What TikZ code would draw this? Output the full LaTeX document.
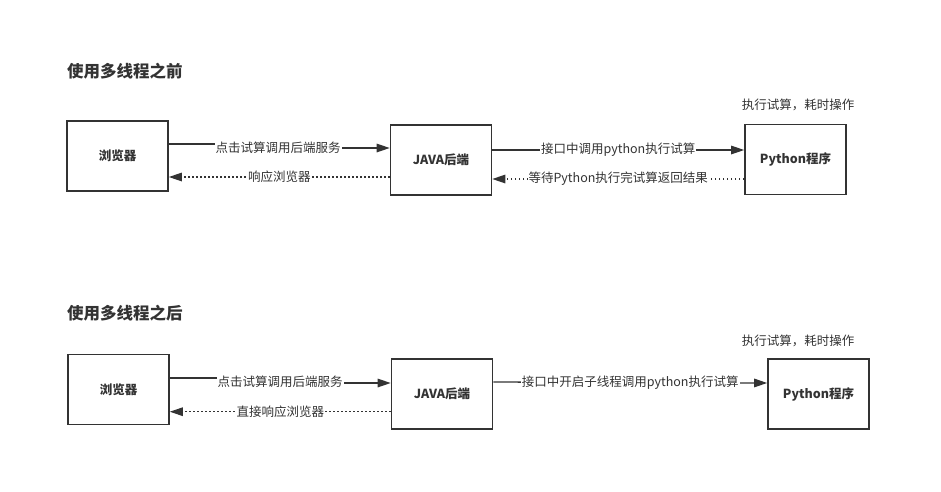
\documentclass[tikz,border=0pt]{standalone}
\usepackage{fontspec}
\setmainfont{Noto Sans CJK SC}
\usepackage{tikz}
\usetikzlibrary{arrows.meta}
\definecolor{ink}{HTML}{333333}
\tikzstyle{box}=[draw=ink,line width=1.6pt,minimum width=101pt,minimum height=70pt,inner sep=0pt,font=\fontsize{12.5}{14}\selectfont\bfseries,text=ink]
\tikzstyle{lbl}=[fill=white,inner sep=1pt,font=\fontsize{12.5}{14}\selectfont,text=ink]
\tikzstyle{title}=[anchor=west,inner sep=0pt,font=\fontsize{16.5}{18}\selectfont\bfseries,text=ink]
\tikzstyle{edge}=[draw=ink,line width=1.3pt,-{Triangle[length=13pt,width=8.5pt]}]
\tikzstyle{back}=[edge,dash pattern=on 1.5pt off 2.5pt]

\begin{document}
\begin{tikzpicture}[x=1pt,y=-1pt]
      \useasboundingbox (0,0) rectangle (941,491);
      % before
      \node[title] (t1) at (67,71) {使用多线程之前};
      \node[box] (b1) at (117.5,156) {浏览器};
      \node[box] (j1) at (441,160) {JAVA后端};
      \node[box] (p1) at (795.5,159.5) {Python程序};
      \node[lbl] (n1) at (798,105) {执行试算，耗时操作};
      \coordinate (m1) at (278,148);
      \draw[edge] ([yshift=12pt]b1.east) -| (m1) |- ([yshift=12pt]j1.west);
      \node[lbl] at (m1) {点击试算调用后端服务};
      \draw[back] ([yshift=-17pt]j1.west) to node[lbl] {响应浏览器} ([yshift=-21pt]b1.east);
      \draw[edge] ([yshift=10pt]j1.east) to node[lbl] {接口中调用python执行试算} ([yshift=9.5pt]p1.west);
      \draw[back] ([yshift=-19.5pt]p1.west) to node[lbl] {等待Python执行完试算返回结果} ([yshift=-19pt]j1.east);
      % after
      \node[title] (t2) at (67,313) {使用多线程之后};
      \node[box] (b2) at (118.5,389.5) {浏览器};
      \node[box] (j2) at (442,394) {JAVA后端};
      \node[box] (p2) at (818.5,394) {Python程序};
      \node[lbl] (n2) at (798,341) {执行试算，耗时操作};
      \coordinate (m2) at (280,382);
      \draw[edge] ([yshift=11.5pt]b2.east) -| (m2) |- ([yshift=11pt]j2.west);
      \node[lbl] at (m2) {点击试算调用后端服务};
      \draw[back] ([yshift=-17.7pt]j2.west) to node[lbl] {直接响应浏览器} ([yshift=-22.2pt]b2.east);
      \draw[edge] ([yshift=12pt]j2.east) to node[lbl] {接口中开启子线程调用python执行试算} ([yshift=11pt]p2.west);
\end{tikzpicture}
\end{document}
